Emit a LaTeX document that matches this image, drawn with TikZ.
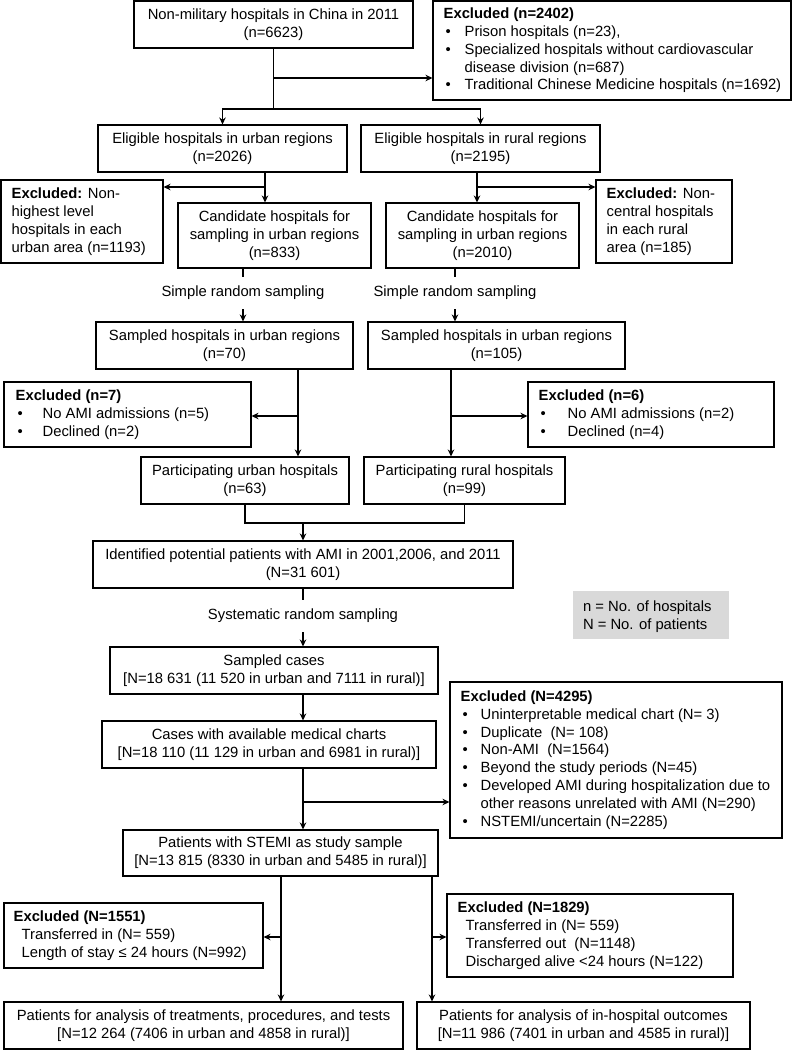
\documentclass[tikz,border=0pt]{standalone}
\usepackage{fontspec}
\setmainfont{Liberation Sans}
\usetikzlibrary{arrows.meta,calc}
\definecolor{legendgray}{RGB}{217,217,217}
\newcommand\fs{\fontsize{14.8}{17.8}\selectfont}
\newcommand\bul[1]{\makebox[#1][l]{\hspace{2pt}\textbullet}}
\tikzset{
  box/.style={draw, line width=1.1pt, inner sep=0pt, align=center},
  txt/.style={anchor=west, align=left, inner sep=0pt},
  lbl/.style={inner xsep=0pt, inner ysep=9pt},
  conn/.style={line width=1.1pt},
  arr/.style={line width=1.1pt, -{Stealth[length=7pt,width=6.5pt]}},
}
\begin{document}
\begin{tikzpicture}[x=1pt,y=-1pt,font=\fs]
\useasboundingbox (0,0) rectangle (792,1050);

% ---- boxes ----
\node[box, minimum width=279pt, minimum height=47pt] (top) at (273.5,24.5)
  {Non-military hospitals in China in 2011\\(n=6623)};
\node[box, minimum width=358pt, minimum height=99pt] (exc1) at (612,50.5) {};
\node[txt] at ([xshift=11pt]exc1.west) {\textbf{Excluded (n=2402)}\\
  \bul{21pt}Prison hospitals (n=23),\\
  \bul{21pt}Specialized hospitals without cardiovascular\\
  \hspace*{21pt}disease division (n=687)\\
  \bul{21pt}Traditional Chinese Medicine hospitals (n=1692)};

\node[box, minimum width=249pt, minimum height=47pt] (eu) at (222.5,148.5)
  {Eligible hospitals in urban regions\\(n=2026)};
\node[box, minimum width=239pt, minimum height=47pt] (er) at (480.5,148.5)
  {Eligible hospitals in rural regions\\(n=2195)};

\node[box, minimum width=162pt, minimum height=83pt] (exu) at (82,221.5) {};
\node[txt] at ([xshift=11pt]exu.west) {\textbf{Excluded:} Non-\\highest level\\hospitals in each\\urban area (n=1193)};
\node[box, minimum width=193pt, minimum height=65pt] (cu) at (274.5,235.5)
  {Candidate hospitals for\\sampling in urban regions\\(n=833)};
\node[box, minimum width=193pt, minimum height=65pt] (cr) at (482.5,235.5)
  {Candidate hospitals for\\sampling in urban regions\\(n=2010)};
\node[box, minimum width=136pt, minimum height=83pt] (exr) at (664,221.5) {};
\node[txt] at ([xshift=11pt]exr.west) {\textbf{Excluded:} Non-\\central hospitals\\in each rural\\area (n=185)};

\node[lbl] (sru) at (243,293) {Simple random sampling};
\node[lbl] (srr) at (455,293) {Simple random sampling};

\node[box, minimum width=257pt, minimum height=47pt] (su) at (224.5,345.5)
  {Sampled hospitals in urban regions\\(n=70)};
\node[box, minimum width=257pt, minimum height=47pt] (sr) at (496.5,345.5)
  {Sampled hospitals in urban regions\\(n=105)};

\node[box, minimum width=247pt, minimum height=65pt] (ex7) at (127.5,414.5) {};
\node[txt] at ([xshift=12pt]ex7.west) {\textbf{Excluded (n=7)}\\
  \bul{27pt}No AMI admissions (n=5)\\
  \bul{27pt}Declined (n=2)};
\node[box, minimum width=246pt, minimum height=65pt] (ex6) at (651,414.5) {};
\node[txt] at ([xshift=11pt]ex6.west) {\textbf{Excluded (n=6)}\\
  \bul{29pt}No AMI admissions (n=2)\\
  \bul{29pt}Declined (n=4)};

\node[box, minimum width=208pt, minimum height=47pt] (pu) at (245,480.5)
  {Participating urban hospitals\\(n=63)};
\node[box, minimum width=201pt, minimum height=47pt] (pr) at (464.5,480.5)
  {Participating rural hospitals\\(n=99)};

\node[box, minimum width=420pt, minimum height=47pt] (id) at (303,564.5)
  {Identified potential patients with AMI in 2001,2006, and 2011\\(N=31 601)};
\node[lbl] (sys) at (303,616) {Systematic random sampling};

\node[fill=legendgray, minimum width=156pt, minimum height=48pt, inner sep=0pt] (leg) at (651,615) {};
\node[txt, text depth=0pt] at ([xshift=10pt]leg.west) {n = No. of hospitals\\N = No. of patients};

\node[box, minimum width=328pt, minimum height=47pt] (sc) at (274,670.5)
  {Sampled cases\\{[}N=18 631 (11 520 in urban and 7111 in rural)]};
\node[box, minimum width=334pt, minimum height=47pt] (cc) at (269,744.5)
  {Cases with available medical charts\\{[}N=18 110 (11 129 in urban and 6981 in rural)]};
\node[box, minimum width=332pt, minimum height=156pt] (ex4295) at (616,760) {};
\node[txt] at ([xshift=11pt]ex4295.west) {\textbf{Excluded (N=4295)}\\
  \bul{20pt}Uninterpretable medical chart (N= 3)\\
  \bul{20pt}Duplicate\ \ (N= 108)\\
  \bul{20pt}Non-AMI\ \ (N=1564)\\
  \bul{20pt}Beyond the study periods (N=45)\\
  \bul{20pt}Developed AMI during hospitalization due to\\
  \hspace*{20pt}other reasons unrelated with AMI (N=290)\\
  \bul{20pt}NSTEMI/uncertain (N=2285)};

\node[box, minimum width=315pt, minimum height=46pt] (st) at (280.5,853)
  {Patients with STEMI as study sample\\{[}N=13 815 (8330 in urban and 5485 in rural)]};

\node[box, minimum width=259pt, minimum height=65pt] (ex1551) at (133.5,935.5) {};
\node[txt] at ([xshift=10pt]ex1551.west) {\textbf{Excluded (N=1551)}\\
  \hspace*{8pt}Transferred in (N= 559)\\
  \hspace*{8pt}Length of stay ≤ 24 hours (N=992)};
\node[box, minimum width=286pt, minimum height=83pt] (ex1829) at (590,935.5) {};
\node[txt] at ([xshift=11pt]ex1829.west) {\textbf{Excluded (N=1829)}\\
  \hspace*{8pt}Transferred in (N= 559)\\
  \hspace*{8pt}Transferred out\ \ (N=1148)\\
  \hspace*{8pt}Discharged alive <24 hours (N=122)};

\node[box, minimum width=399pt, minimum height=47pt] (bl) at (203.5,1025.5)
  {Patients for analysis of treatments, procedures, and tests\\{[}N=12 264 (7406 in urban and 4858 in rural)]};
\node[box, minimum width=333pt, minimum height=47pt] (br) at (583.5,1025.5)
  {Patients for analysis of in-hospital outcomes\\{[}N=11 986 (7401 in urban and 4585 in rural)]};

% ---- connectors ----
\coordinate (b1) at (273.5,78);
\coordinate (s1) at (273.5,109);
\draw[conn] (top.south) -- (s1);
\draw[arr] (b1) -- (exc1.west |- b1);
\draw[arr] (s1) -| (eu.north);
\draw[arr] (s1) -| (er.north);

\coordinate (p2) at (265,187);
\draw[arr] (eu.south -| p2) -- (cu.north -| p2);
\draw[arr] (p2) -- (exu.east |- p2);
\coordinate (p3) at (477,187);
\draw[arr] (er.south -| p3) -- (cr.north -| p3);
\draw[arr] (p3) -- (exr.west |- p3);

\draw[conn] (cu.south -| sru) -- (sru.north);
\draw[arr] (sru.south) -- (su.north -| sru);
\draw[conn] (cr.south -| srr) -- (srr.north);
\draw[arr] (srr.south) -- (sr.north -| srr);

\coordinate (p4) at (298,416);
\draw[arr] (su.south -| p4) -- (pu.north -| p4);
\draw[arr] (p4) -- (ex7.east |- p4);
\coordinate (p5) at (451,416);
\draw[arr] (sr.south -| p5) -- (pr.north -| p5);
\draw[arr] (p5) -- (ex6.west |- p5);

\coordinate (p6) at (303,523);
\draw[conn] (pu.south) |- (p6) -| (pr.south);
\draw[arr] (p6) -- (id.north -| p6);

\draw[conn] (id.south -| sys) -- (sys.north);
\draw[arr] (sys.south) -- (sc.north -| sys);
\draw[arr] (sc.south -| sys) -- (cc.north -| sys);

\coordinate (p7) at (303,802);
\draw[arr] (cc.south -| p7) -- (st.north -| p7);
\draw[arr] (p7) -- (ex4295.west |- p7);

\coordinate (p8) at (281,937);
\draw[arr] (st.south -| p8) -- (bl.north -| p8);
\draw[arr] (p8) -- (ex1551.east |- p8);
\coordinate (p9) at (432,937);
\draw[arr] (st.south -| p9) -- (br.north -| p9);
\draw[arr] (p9) -- (ex1829.west |- p9);
\end{tikzpicture}
\end{document}
